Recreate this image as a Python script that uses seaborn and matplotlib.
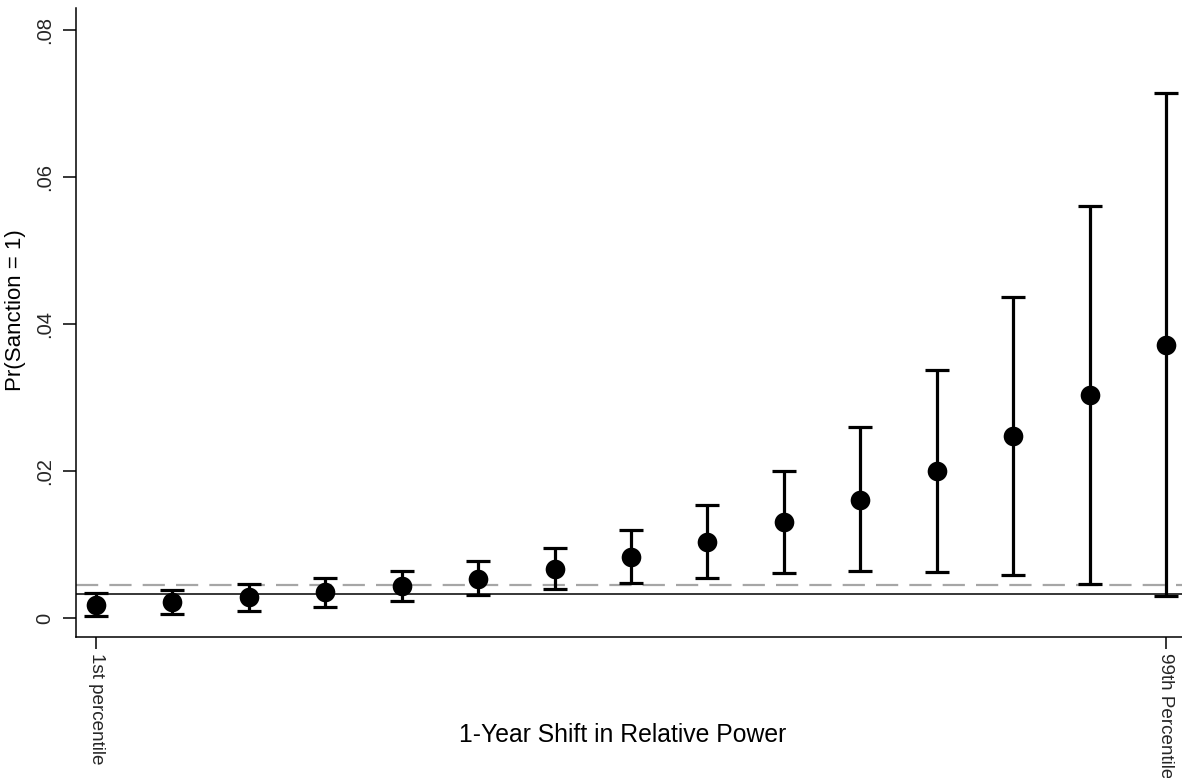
import matplotlib
matplotlib.use("Agg")
import matplotlib.pyplot as plt
import seaborn as sns
import pandas as pd

# Predicted probability of sanction across 15 steps of the shift in relative power
steps = list(range(1, 16))
estimate = [0.0018, 0.0022, 0.0028, 0.0035, 0.0043, 0.0053, 0.0067, 0.0083,
            0.0104, 0.0130, 0.0161, 0.0200, 0.0247, 0.0304, 0.0372]
ci_low = [0.0003, 0.0006, 0.0010, 0.0015, 0.0023, 0.0031, 0.0040, 0.0048,
          0.0055, 0.0061, 0.0064, 0.0063, 0.0058, 0.0046, 0.0030]
ci_high = [0.0034, 0.0038, 0.0046, 0.0054, 0.0064, 0.0078, 0.0095, 0.0120,
           0.0154, 0.0200, 0.0260, 0.0338, 0.0437, 0.0561, 0.0715]

# Reference levels
baseline_solid = 0.0032
baseline_dashed = 0.0045

y_ticks = [0, 0.02, 0.04, 0.06, 0.08]
y_tick_labels = ["0", ".02", ".04", ".06", ".08"]
x_ticks = [1, 15]
x_tick_labels = ["1st percentile", "99th Percentile"]

df = pd.DataFrame({"step": steps, "est": estimate, "lo": ci_low, "hi": ci_high})

sns.set_theme(style="white")
plt.rcParams["font.family"] = ["Liberation Sans", "DejaVu Sans"]

fig = plt.figure(figsize=(11.82, 7.78), dpi=100)
ax = fig.add_axes([0.0643, 0.1812, 0.9357, 0.8085])

# Reference lines
ax.axhline(baseline_dashed, color="#a6a6a6", lw=1.6, dashes=(10, 5), zorder=1)
ax.axhline(baseline_solid, color="black", lw=1.1, zorder=1)

# Confidence intervals
ax.errorbar(df["step"], df["est"],
            yerr=[df["est"] - df["lo"], df["hi"] - df["est"]],
            fmt="none", ecolor="black", elinewidth=2.3, capsize=8.5,
            capthick=2.3, zorder=2)

# Point estimates
sns.scatterplot(data=df, x="step", y="est", ax=ax, color="black", s=200,
                edgecolor="black", linewidth=0, zorder=3, legend=False)

ax.set_xlim(0.738, 15.21)
ax.set_ylim(-0.00259, 0.0830)

ax.set_yticks(y_ticks)
ax.set_yticklabels(y_tick_labels, rotation=90, va="center", fontsize=14.5)
ax.set_xticks(x_ticks)
ax.set_xticklabels(x_tick_labels, rotation=-90, ha="center", va="top", fontsize=13.6)

ax.tick_params(axis="y", direction="out", length=9.5, width=1.1, color="black",
               pad=6, left=True)
ax.tick_params(axis="x", direction="out", length=8.5, width=1.1, color="black",
               pad=3, bottom=True)

for side in ["top", "right"]:
    ax.spines[side].set_visible(False)
for side in ["left", "bottom"]:
    ax.spines[side].set_color("black")
    ax.spines[side].set_linewidth(1.1)

ax.set_xlabel("1-Year Shift in Relative Power", fontsize=17.8, color="black")
ax.set_ylabel("Pr(Sanction = 1)", fontsize=16, color="black")
ax.xaxis.set_label_coords(0.4945, -0.137)
ax.yaxis.set_label_coords(-0.045, 0.52)

fig.savefig("out.png", dpi=100, facecolor="white")
